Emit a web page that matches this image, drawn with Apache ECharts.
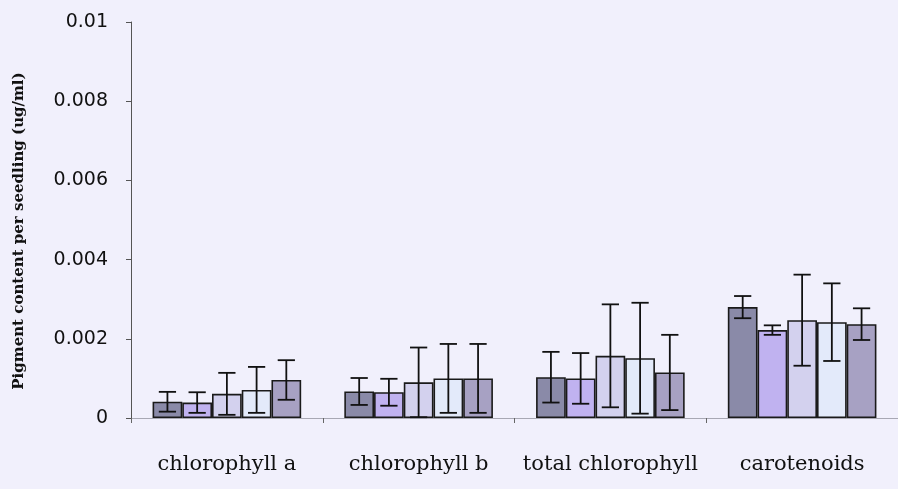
<!DOCTYPE html>
<html>
<head>
<meta charset="utf-8">
<script src="https://cdn.jsdelivr.net/npm/echarts@6/dist/echarts.min.js"></script>
<style>
  html, body { margin: 0; padding: 0; background: #f1f0fc; }
  #chart { width: 898px; height: 489px; }
</style>
</head>
<body>
<div id="chart"></div>
<script>
// Pigment groups along the x axis
const categories = ['chlorophyll a', 'chlorophyll b', 'total chlorophyll', 'carotenoids'];

// Mean pigment content for each of the five treatments
const treatment1 = [0.00041, 0.00067, 0.00103, 0.00280];
const treatment2 = [0.00039, 0.00065, 0.00100, 0.00222];
const treatment3 = [0.00061, 0.00090, 0.00157, 0.00247];
const treatment4 = [0.00071, 0.00100, 0.00151, 0.00242];
const treatment5 = [0.00096, 0.00100, 0.00115, 0.00237];

// Error bar half-lengths (standard deviation) for each treatment
const error1 = [0.00025, 0.00034, 0.00064, 0.00028];
const error2 = [0.00026, 0.00034, 0.00064, 0.00012];
const error3 = [0.00053, 0.00088, 0.00130, 0.00115];
const error4 = [0.00058, 0.00087, 0.00140, 0.00098];
const error5 = [0.00050, 0.00087, 0.00095, 0.00040];

const yTicks = [0, 0.002, 0.004, 0.006, 0.008, 0.01];

const means = [treatment1, treatment2, treatment3, treatment4, treatment5];
const errors = [error1, error2, error3, error4, error5];
const colors = ['#8a8aa8', '#c0b2f0', '#d3d1ee', '#e3eafa', '#a7a1c3'];
const names = ['Treatment 1', 'Treatment 2', 'Treatment 3', 'Treatment 4', 'Treatment 5'];

const CATEGORY_GAP = 0.225;
const nSeries = means.length;

const barSeries = means.map((vals, i) => ({
  name: names[i],
  type: 'bar',
  data: vals,
  barGap: '0%',
  barCategoryGap: (CATEGORY_GAP * 100) + '%',
  itemStyle: { color: colors[i], borderColor: '#1a1a1a', borderWidth: 1.6 },
  z: 2
}));

const errorSeries = means.map((vals, i) => ({
  type: 'custom',
  z: 5,
  data: vals.map((v, k) => [k, v - errors[i][k], v + errors[i][k]]),
  encode: { x: 0, y: [1, 2] },
  renderItem: function (params, api) {
    const k = api.value(0);
    const band = api.size([1, 0])[0];
    const barW = band * (1 - CATEGORY_GAP) / nSeries;
    const lo = api.coord([k, api.value(1)]);
    const hi = api.coord([k, api.value(2)]);
    const x = lo[0] + (i - (nSeries - 1) / 2) * barW;
    const cap = barW * 0.29;
    const style = { stroke: '#111', lineWidth: 1.8, fill: null };
    return {
      type: 'group',
      children: [
        { type: 'line', shape: { x1: x, y1: hi[1], x2: x, y2: lo[1] }, style: style },
        { type: 'line', shape: { x1: x - cap, y1: hi[1], x2: x + cap, y2: hi[1] }, style: style },
        { type: 'line', shape: { x1: x - cap, y1: lo[1], x2: x + cap, y2: lo[1] }, style: style }
      ]
    };
  }
}));

const chart = echarts.init(document.getElementById('chart'));
chart.setOption({
  backgroundColor: '#f1f0fc',
  animation: false,
  grid: { left: 131, top: 22, width: 772, height: 396 },
  xAxis: {
    type: 'category',
    data: categories,
    axisLine: { lineStyle: { color: '#a8a8b4', width: 1 } },
    axisTick: { show: true, length: 5, lineStyle: { color: '#666' } },
    axisLabel: {
      interval: 0,
      hideOverlap: false,
      margin: 36,
      fontFamily: '"DejaVu Serif", "Liberation Serif", serif',
      fontSize: 21,
      color: '#111'
    }
  },
  yAxis: {
    type: 'value',
    min: yTicks[0],
    max: yTicks[yTicks.length - 1],
    interval: 0.002,
    splitLine: { show: false },
    axisLine: { show: true, lineStyle: { color: '#555', width: 1 } },
    axisTick: { show: true, length: 5, lineStyle: { color: '#555' } },
    axisLabel: {
      margin: 23,
      fontFamily: '"DejaVu Sans", "Liberation Sans", sans-serif',
      fontSize: 19,
      color: '#111',
      formatter: v => String(+v.toFixed(3))
    },
    name: 'Pigment content per seedling (ug/ml)',
    nameLocation: 'middle',
    nameGap: 104,
    nameTextStyle: {
      fontFamily: '"DejaVu Serif", "Liberation Serif", serif',
      fontWeight: 'bold',
      fontSize: 15,
      color: '#111',
      padding: [0, 22, 0, 0]
    }
  },
  series: barSeries.concat(errorSeries)
});
</script>
</body>
</html>
